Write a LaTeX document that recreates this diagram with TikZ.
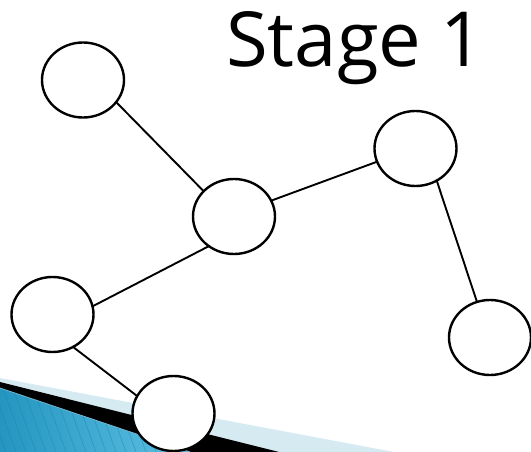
\documentclass[tikz,border=0pt]{standalone}
\usepackage{fontspec}
\setmainfont{Open Sans}
\usetikzlibrary{shapes.geometric}
\definecolor{bandlight}{RGB}{214,234,241}
\definecolor{wedgedark}{RGB}{36,150,193}
\definecolor{wedgelight}{RGB}{98,194,228}
\definecolor{wedgestripe}{RGB}{30,132,172}
\definecolor{wedgeedge}{RGB}{120,178,200}
\tikzset{
  vertex/.style={ellipse, draw=black, fill=white, line width=2.4pt,
    minimum width=82pt, minimum height=75pt, inner sep=0pt},
  link/.style={draw=black, line width=1.9pt, shorten <=-2pt, shorten >=-2pt},
  title/.style={anchor=base west, inner sep=0pt,
    font=\fontsize{76}{76}\selectfont}
}
\begin{document}
\begin{tikzpicture}[x=1pt, y=-1pt]
  \useasboundingbox (0,0) rectangle (531,452);

  % corner wedge: pale band, black band, striped blue panel
  \fill[bandlight] (0,378) -- (394,452) -- (0,452) -- cycle;
  \fill[black] (0,382) -- (279,452) -- (0,452) -- cycle;
  \begin{scope}
    \clip (0,388) -- (190,452) -- (0,452) -- cycle;
    \shade[left color=wedgedark, right color=wedgelight] (0,380) rectangle (200,452);
    \foreach \s in {-40,-30,...,200}
      \draw[wedgestripe, line width=0.6pt, opacity=0.55] (\s,380) -- (\s+26,452);
  \end{scope}
  \draw[wedgeedge, line width=0.8pt] (0,388) -- (190,452);

  % title
  \node[title] (t) at (226,67) {Stage 1};

  % vertices
  \node[vertex] (a) at (83,80) {};
  \node[vertex] (b) at (234,216.5) {};
  \node[vertex] (c) at (415.5,148.5) {};
  \node[vertex] (d) at (490,337.5) {};
  \node[vertex] (e) at (52.5,314.5) {};
  \node[vertex] (f) at (173.5,413.5) {};

  % edges
  \draw[link] (a.-34) -- (b.140);
  \draw[link] (b.23) -- (c.199);
  \draw[link] (b.229) -- (e.12);
  \draw[link] (c.-57) -- (d.110);
  \draw[link] (e.-57) -- (f.154);
\end{tikzpicture}
\end{document}
